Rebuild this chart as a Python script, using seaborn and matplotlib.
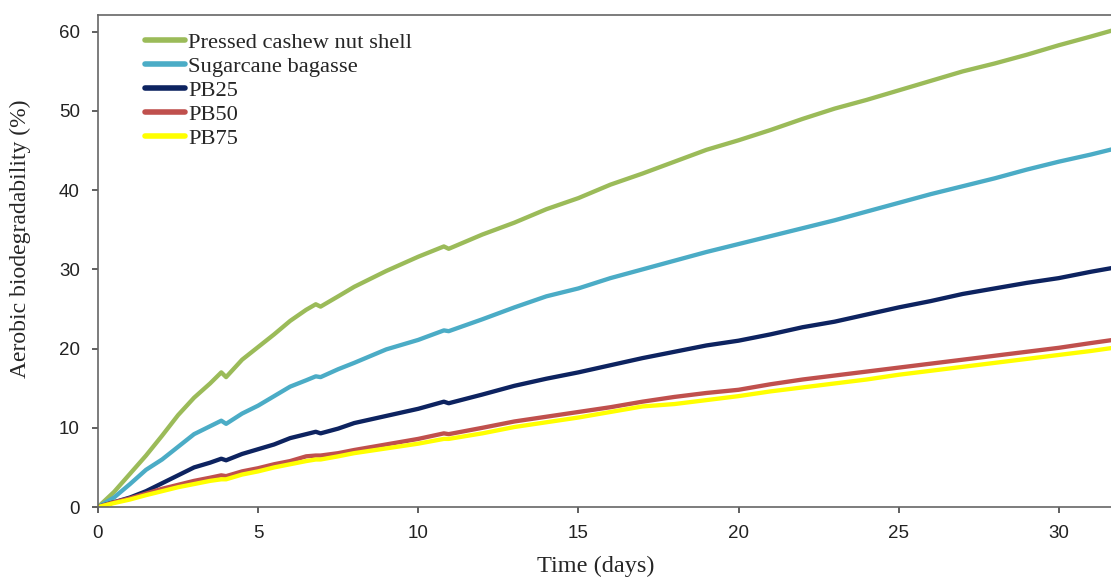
import pandas as pd
import numpy as np
import matplotlib
matplotlib.use('Agg')
import matplotlib.pyplot as plt
import seaborn as sns

# дни и значения
days = [0, 0.5, 1, 1.5, 2, 2.5, 3, 3.5, 3.85, 4.0, 4.5, 5, 5.5, 6, 6.5, 6.8, 6.95,
        7.5, 8, 9, 10, 10.8, 10.95, 12, 13, 14, 15, 16, 17, 18, 19, 20, 21, 22,
        23, 24, 25, 26, 27, 28, 29, 30, 31, 31.7]

cashew = [0, 1.9, 4.2, 6.5, 9.0, 11.6, 13.8, 15.6, 17.0, 16.4, 18.6, 20.2, 21.8, 23.5,
          24.9, 25.6, 25.3, 26.6, 27.8, 29.8, 31.6, 32.9, 32.6, 34.4, 35.9, 37.6, 39.0,
          40.7, 42.1, 43.6, 45.1, 46.3, 47.6, 49.0, 50.3, 51.4, 52.6, 53.8, 55.0, 56.0,
          57.1, 58.3, 59.4, 60.2]
bagasse = [0, 1.2, 2.9, 4.7, 6.0, 7.6, 9.2, 10.2, 10.9, 10.5, 11.8, 12.8, 14.0, 15.2,
           16.0, 16.5, 16.4, 17.4, 18.2, 19.9, 21.1, 22.3, 22.2, 23.7, 25.2, 26.6, 27.6,
           28.9, 30.0, 31.1, 32.2, 33.2, 34.2, 35.2, 36.2, 37.3, 38.4, 39.5, 40.5, 41.5,
           42.6, 43.6, 44.5, 45.2]
pb25 = [0, 0.6, 1.2, 2.0, 3.0, 4.0, 5.0, 5.6, 6.1, 5.9, 6.7, 7.3, 7.9, 8.7, 9.2, 9.5,
        9.3, 9.9, 10.6, 11.5, 12.4, 13.3, 13.1, 14.2, 15.3, 16.2, 17.0, 17.9, 18.8, 19.6,
        20.4, 21.0, 21.8, 22.7, 23.4, 24.3, 25.2, 26.0, 26.9, 27.6, 28.3, 28.9, 29.7, 30.2]
pb50 = [0, 0.6, 1.1, 1.7, 2.3, 2.8, 3.3, 3.7, 4.0, 3.9, 4.5, 4.9, 5.4, 5.8, 6.4, 6.5,
        6.5, 6.8, 7.2, 7.9, 8.6, 9.3, 9.2, 10.0, 10.8, 11.4, 12.0, 12.6, 13.3, 13.9,
        14.4, 14.8, 15.5, 16.1, 16.6, 17.1, 17.6, 18.1, 18.6, 19.1, 19.6, 20.1, 20.7, 21.1]
pb75 = [0, 0.5, 0.95, 1.5, 2.0, 2.5, 2.9, 3.3, 3.5, 3.5, 4.1, 4.5, 5.0, 5.4, 5.8, 6.0,
        6.0, 6.4, 6.8, 7.4, 8.0, 8.6, 8.6, 9.3, 10.1, 10.7, 11.3, 12.0, 12.7, 13.0, 13.5,
        14.0, 14.6, 15.1, 15.6, 16.1, 16.7, 17.2, 17.7, 18.2, 18.7, 19.2, 19.7, 20.1]

names = ['Pressed cashew nut shell', 'Sugarcane bagasse', 'PB25', 'PB50', 'PB75']
colors = ['#9BBB59', '#4BACC6', '#0D2360', '#C0504D', '#FFFF00']

df = pd.concat([pd.DataFrame({'day': days, 'value': v, 'sample': n})
                for n, v in zip(names, [cashew, bagasse, pb25, pb50, pb75])])

sns.set_style('white')
plt.rcParams['font.family'] = ['Liberation Sans', 'DejaVu Sans']

fig = plt.figure(figsize=(11.11, 5.78), dpi=100)
ax = fig.add_axes([0.0882, 0.1228, 0.9118, 0.851])

sns.lineplot(data=df, x='day', y='value', hue='sample', palette=dict(zip(names, colors)),
             hue_order=names, estimator=None, sort=False, linewidth=3.1, ax=ax)

ax.set_xlim(0, 31.63)
ax.set_ylim(0, 62.1)
ax.set_xticks(range(0, 31, 5))
ax.set_yticks(range(0, 61, 10))
ax.tick_params(axis='both', labelsize=13.5, length=4.5, width=1.2, color='#444444',
               direction='out', bottom=True, left=True, pad=8.5, labelcolor='#222222')

for s in ['left', 'bottom', 'top']:
    ax.spines[s].set_color('#666666')
    ax.spines[s].set_linewidth(1.2)
ax.spines['right'].set_visible(False)

ax.set_xlabel('Time (days)', family='Liberation Serif', fontsize=17.5)
ax.set_ylabel('Aerobic biodegradability (%)', family='Liberation Serif', fontsize=17)
ax.xaxis.set_label_coords(0.4916, -0.1)
ax.yaxis.set_label_coords(-0.066, 0.545)

leg = ax.legend(loc='upper left', bbox_to_anchor=(0.046, 0.966), frameon=False,
                prop={'family': 'Liberation Serif', 'size': 16.2},
                handlelength=1.8, handletextpad=0.15, labelspacing=0.15,
                borderaxespad=0, borderpad=0)
for line in leg.get_lines():
    line.set_linewidth(4)

fig.savefig('out.png', dpi=100)
